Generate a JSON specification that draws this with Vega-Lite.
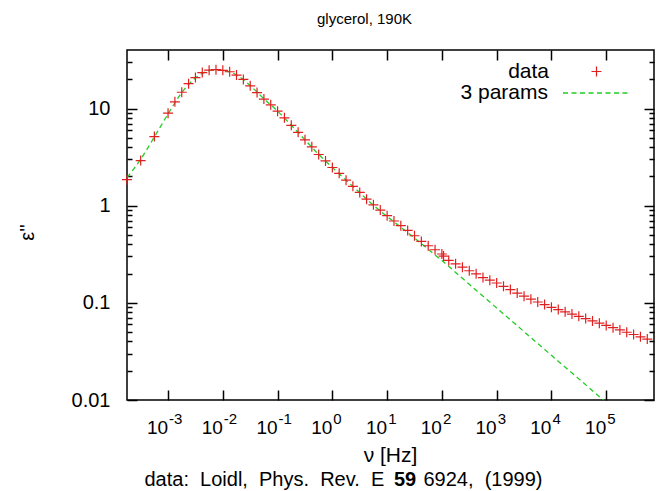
{
  "$schema": "https://vega.github.io/schema/vega-lite/v6.json",
  "width": 527,
  "height": 350,
  "autosize": {"type": "none"},
  "padding": {"left": 127, "top": 50, "right": 2, "bottom": 91},
  "background": "white",
  "title": {"text": "glycerol, 190K", "fontSize": 15, "font": "Liberation Sans", "fontWeight": "normal", "anchor": "middle", "dx": -26, "offset": 10, "baseline": "alphabetic", "color": "black"},
  "config": {
    "view": {"stroke": "black", "strokeWidth": 1.5},
    "font": "Liberation Sans",
    "axis": {"grid": false, "domain": false, "tickColor": "black", "tickWidth": 1.5, "labelColor": "black", "labelFont": "Liberation Sans", "labelFontSize": 20, "titleFont": "Liberation Sans", "titleFontSize": 20, "titleFontWeight": "normal", "titleColor": "black", "labelOverlap": false, "labelFlush": false},
    "legend": {"labelFont": "Liberation Sans", "labelFontSize": 21, "labelColor": "black"}
  },
  "datasets": {
    "meas": [
      {"f": 0.00017783, "e": 1.85, "series": "data"},
      {"f": 0.00031623, "e": 2.91, "series": "data"},
      {"f": 0.00056234, "e": 5.14, "series": "data"},
      {"f": 0.001, "e": 8.95, "series": "data"},
      {"f": 0.0013335, "e": 11.7, "series": "data"},
      {"f": 0.0017783, "e": 14.7, "series": "data"},
      {"f": 0.0023714, "e": 18.0, "series": "data"},
      {"f": 0.0031623, "e": 20.8, "series": "data"},
      {"f": 0.004217, "e": 23.4, "series": "data"},
      {"f": 0.0056234, "e": 24.8, "series": "data"},
      {"f": 0.0074989, "e": 25.1, "series": "data"},
      {"f": 0.01, "e": 24.7, "series": "data"},
      {"f": 0.013335, "e": 23.9, "series": "data"},
      {"f": 0.017783, "e": 22.1, "series": "data"},
      {"f": 0.023714, "e": 19.9, "series": "data"},
      {"f": 0.031623, "e": 17.1, "series": "data"},
      {"f": 0.04217, "e": 14.6, "series": "data"},
      {"f": 0.056234, "e": 12.5, "series": "data"},
      {"f": 0.074989, "e": 10.9, "series": "data"},
      {"f": 0.1, "e": 9.38, "series": "data"},
      {"f": 0.13335, "e": 8.02, "series": "data"},
      {"f": 0.17783, "e": 6.71, "series": "data"},
      {"f": 0.23714, "e": 5.69, "series": "data"},
      {"f": 0.31623, "e": 4.76, "series": "data"},
      {"f": 0.4217, "e": 4.03, "series": "data"},
      {"f": 0.56234, "e": 3.36, "series": "data"},
      {"f": 0.74989, "e": 2.89, "series": "data"},
      {"f": 1, "e": 2.47, "series": "data"},
      {"f": 1.3335, "e": 2.15, "series": "data"},
      {"f": 1.7783, "e": 1.83, "series": "data"},
      {"f": 2.3714, "e": 1.58, "series": "data"},
      {"f": 3.1623, "e": 1.37, "series": "data"},
      {"f": 4.217, "e": 1.167, "series": "data"},
      {"f": 5.6234, "e": 1.02, "series": "data"},
      {"f": 7.4989, "e": 0.9, "series": "data"},
      {"f": 10, "e": 0.789, "series": "data"},
      {"f": 13.335, "e": 0.695, "series": "data"},
      {"f": 17.783, "e": 0.622, "series": "data"},
      {"f": 23.714, "e": 0.556, "series": "data"},
      {"f": 31.623, "e": 0.49, "series": "data"},
      {"f": 42.17, "e": 0.429, "series": "data"},
      {"f": 56.234, "e": 0.387, "series": "data"},
      {"f": 74.989, "e": 0.352, "series": "data"},
      {"f": 100, "e": 0.318, "series": "data"},
      {"f": 107.2, "e": 0.303, "series": "data"},
      {"f": 133.35, "e": 0.273, "series": "data"},
      {"f": 177.83, "e": 0.252, "series": "data"},
      {"f": 237.14, "e": 0.233, "series": "data"},
      {"f": 316.23, "e": 0.214, "series": "data"},
      {"f": 421.7, "e": 0.199, "series": "data"},
      {"f": 562.34, "e": 0.182, "series": "data"},
      {"f": 749.89, "e": 0.171, "series": "data"},
      {"f": 1000, "e": 0.16, "series": "data"},
      {"f": 1333.5, "e": 0.148, "series": "data"},
      {"f": 1778.3, "e": 0.137, "series": "data"},
      {"f": 2371.4, "e": 0.126, "series": "data"},
      {"f": 3162.3, "e": 0.117, "series": "data"},
      {"f": 4217, "e": 0.109, "series": "data"},
      {"f": 5623.4, "e": 0.102, "series": "data"},
      {"f": 7498.9, "e": 0.096, "series": "data"},
      {"f": 10000, "e": 0.09, "series": "data"},
      {"f": 13335, "e": 0.0853, "series": "data"},
      {"f": 17783, "e": 0.0808, "series": "data"},
      {"f": 23714, "e": 0.0766, "series": "data"},
      {"f": 31623, "e": 0.0726, "series": "data"},
      {"f": 42170, "e": 0.0688, "series": "data"},
      {"f": 56234, "e": 0.0652, "series": "data"},
      {"f": 74989, "e": 0.0618, "series": "data"},
      {"f": 100000, "e": 0.0585, "series": "data"},
      {"f": 133350, "e": 0.0555, "series": "data"},
      {"f": 177830, "e": 0.0526, "series": "data"},
      {"f": 237140, "e": 0.0498, "series": "data"},
      {"f": 316230, "e": 0.0472, "series": "data"},
      {"f": 421700, "e": 0.0447, "series": "data"},
      {"f": 562340, "e": 0.0424, "series": "data"}
    ],
    "fit": [
      {"f": 0.00017783, "e": 1.95, "series": "3 params"},
      {"f": 0.00031623, "e": 3.0, "series": "3 params"},
      {"f": 0.00056234, "e": 5.1, "series": "3 params"},
      {"f": 0.001, "e": 8.8, "series": "3 params"},
      {"f": 0.0017783, "e": 14.6, "series": "3 params"},
      {"f": 0.0031623, "e": 20.6, "series": "3 params"},
      {"f": 0.0056234, "e": 24.5, "series": "3 params"},
      {"f": 0.0074989, "e": 25.0, "series": "3 params"},
      {"f": 0.01, "e": 24.7, "series": "3 params"},
      {"f": 0.017783, "e": 22.2, "series": "3 params"},
      {"f": 0.031623, "e": 17.2, "series": "3 params"},
      {"f": 0.056234, "e": 12.6, "series": "3 params"},
      {"f": 0.1, "e": 9.4, "series": "3 params"},
      {"f": 0.17783, "e": 6.72, "series": "3 params"},
      {"f": 0.31623, "e": 4.76, "series": "3 params"},
      {"f": 0.56234, "e": 3.37, "series": "3 params"},
      {"f": 1, "e": 2.47, "series": "3 params"},
      {"f": 1.7783, "e": 1.83, "series": "3 params"},
      {"f": 3.1623, "e": 1.36, "series": "3 params"},
      {"f": 5.6234, "e": 1.01, "series": "3 params"},
      {"f": 10, "e": 0.775, "series": "3 params"},
      {"f": 17.783, "e": 0.6, "series": "3 params"},
      {"f": 31.623, "e": 0.465, "series": "3 params"},
      {"f": 56.234, "e": 0.355, "series": "3 params"},
      {"f": 100, "e": 0.272, "series": "3 params"},
      {"f": 316.23, "e": 0.155, "series": "3 params"},
      {"f": 1000, "e": 0.0885, "series": "3 params"},
      {"f": 3162.3, "e": 0.0505, "series": "3 params"},
      {"f": 10000, "e": 0.0288, "series": "3 params"},
      {"f": 31623, "e": 0.0165, "series": "3 params"},
      {"f": 100000, "e": 0.0094, "series": "3 params"},
      {"f": 177830, "e": 0.0071, "series": "3 params"}
    ]
  },
  "layer": [
    {
      "data": {"name": "fit"},
      "mark": {"type": "line", "color": "#22cc22", "strokeWidth": 1.3, "clip": true, "interpolate": "monotone"},
      "encoding": {
        "x": {"field": "f", "type": "quantitative", "scale": {"type": "log", "domain": [0.000178, 746000], "nice": false}, "axis": null},
        "y": {"field": "e", "type": "quantitative", "scale": {"type": "log", "domain": [0.01, 40], "nice": false}, "axis": null},
        "strokeDash": {"field": "series", "type": "nominal", "scale": {"domain": ["3 params"], "range": [[5, 3.5]]},
          "legend": {"orient": "none", "legendX": 435, "legendY": 9.5, "title": null, "padding": 0, "labelAlign": "right", "labelOffset": -81, "symbolSize": 4225, "symbolType": "stroke", "symbolStrokeColor": "#22cc22", "symbolStrokeWidth": 1.3}}
      }
    },
    {
      "data": {"name": "meas"},
      "mark": {"type": "point", "filled": false, "strokeWidth": 1.2, "color": "#e02020", "opacity": 1, "size": 100},
      "encoding": {
        "x": {"field": "f", "type": "quantitative", "scale": {"type": "log", "domain": [0.000178, 746000], "nice": false},
          "axis": {"orient": "bottom", "values": [0.001, 0.01, 0.1, 1, 10, 100, 1000, 10000, 100000], "tickSize": -10, "labelPadding": 28,
            "labelExpr": "'10'", "labelAlign": "right", "labelOffset": -0.5, "labelFontSize": 19,
            "title": "ν [Hz]", "titleFontSize": 21, "titleX": 263, "titleY": 61, "titleBaseline": "alphabetic", "titleAlign": "center"}},
        "y": {"field": "e", "type": "quantitative", "scale": {"type": "log", "domain": [0.01, 40], "nice": false},
          "axis": {"orient": "left", "values": [0.01, 0.02, 0.03, 0.04, 0.05, 0.06, 0.07, 0.08, 0.09, 0.1, 0.2, 0.3, 0.4, 0.5, 0.6, 0.7, 0.8, 0.9, 1, 2, 3, 4, 5, 6, 7, 8, 9, 10, 20, 30],
            "tickSize": {"condition": {"test": "abs(log(datum.value)/LN10 - round(log(datum.value)/LN10)) < 0.001", "value": -10}, "value": -5},
            "labelPadding": 27,
            "labelExpr": "datum.value == 0.01 ? '0.01' : datum.value == 0.1 ? '0.1' : datum.value == 1 ? '1' : datum.value == 10 ? '10' : ''",
            "title": "ε''", "titleX": -100, "titleY": 182, "titleAngle": 270, "titleAlign": "center", "titleBaseline": "middle"}},
        "shape": {"field": "series", "type": "nominal", "scale": {"domain": ["data"], "range": ["M-1,0H1M0,-1V1"]},
          "legend": {"orient": "none", "legendX": 459, "legendY": 11, "title": null, "padding": 0, "labelAlign": "right", "labelOffset": -58, "symbolSize": 100, "symbolStrokeColor": "#e02020", "symbolFillColor": "transparent", "symbolStrokeWidth": 1.2}}
      }
    },
    {
      "data": {"name": "meas"},
      "mark": {"type": "point", "opacity": 0},
      "encoding": {
        "x": {"field": "f", "type": "quantitative", "scale": {"type": "log", "domain": [0.000178, 746000], "nice": false},
          "axis": {"orient": "top", "values": [0.001, 0.01, 0.1, 1, 10, 100, 1000, 10000, 100000], "tickSize": -10, "labels": false, "title": null}},
        "y": {"field": "e", "type": "quantitative", "scale": {"type": "log", "domain": [0.01, 40], "nice": false},
          "axis": {"orient": "right", "values": [0.01, 0.02, 0.03, 0.04, 0.05, 0.06, 0.07, 0.08, 0.09, 0.1, 0.2, 0.3, 0.4, 0.5, 0.6, 0.7, 0.8, 0.9, 1, 2, 3, 4, 5, 6, 7, 8, 9, 10, 20, 30],
            "tickSize": {"condition": {"test": "abs(log(datum.value)/LN10 - round(log(datum.value)/LN10)) < 0.001", "value": -10}, "value": -5},
            "labels": false, "title": null}}
      }
    },
    {
      "data": {"name": "meas"},
      "mark": {"type": "point", "opacity": 0},
      "encoding": {
        "x": {"field": "f", "type": "quantitative", "scale": {"type": "log", "domain": [0.000178, 746000], "nice": false},
          "axis": {"orient": "bottom", "values": [0.001, 0.01, 0.1, 1, 10, 100, 1000, 10000, 100000], "ticks": false, "labelPadding": 11,
            "labelExpr": "['-3','-2','-1','0','1','2','3','4','5'][round(log(datum.value)/LN10)+3]",
            "labelAlign": "left", "labelOffset": 0.5, "labelFontSize": 15, "title": null}},
        "y": {"field": "e", "type": "quantitative", "scale": {"type": "log", "domain": [0.01, 40], "nice": false}, "axis": null}
      }
    },
    {
      "data": {"name": "meas"},
      "mark": {"type": "point", "opacity": 0},
      "encoding": {
        "x": {"field": "f", "type": "quantitative", "scale": {"type": "log", "domain": [0.000178, 746000], "nice": false},
          "axis": {"orient": "bottom", "ticks": false, "labels": false, "title": "data:\u00a0 Loidl,\u00a0 Phys.\u00a0 Rev.\u00a0 E", "titleX": 17, "titleY": 85, "titleAlign": "left", "titleBaseline": "alphabetic"}},
        "y": {"field": "e", "type": "quantitative", "scale": {"type": "log", "domain": [0.01, 40], "nice": false}, "axis": null}
      }
    },
    {
      "data": {"name": "meas"},
      "mark": {"type": "point", "opacity": 0},
      "encoding": {
        "x": {"field": "f", "type": "quantitative", "scale": {"type": "log", "domain": [0.000178, 746000], "nice": false},
          "axis": {"orient": "bottom", "ticks": false, "labels": false, "title": "59", "titleFontWeight": "bold", "titleX": 266.5, "titleY": 85, "titleAlign": "left", "titleBaseline": "alphabetic"}},
        "y": {"field": "e", "type": "quantitative", "scale": {"type": "log", "domain": [0.01, 40], "nice": false}, "axis": null}
      }
    },
    {
      "data": {"name": "meas"},
      "mark": {"type": "point", "opacity": 0},
      "encoding": {
        "x": {"field": "f", "type": "quantitative", "scale": {"type": "log", "domain": [0.000178, 746000], "nice": false},
          "axis": {"orient": "bottom", "ticks": false, "labels": false, "title": "6924,\u00a0 (1999)", "titleX": 296, "titleY": 85, "titleAlign": "left", "titleBaseline": "alphabetic"}},
        "y": {"field": "e", "type": "quantitative", "scale": {"type": "log", "domain": [0.01, 40], "nice": false}, "axis": null}
      }
    }
  ],
  "resolve": {"axis": {"x": "independent", "y": "independent"}}
}
